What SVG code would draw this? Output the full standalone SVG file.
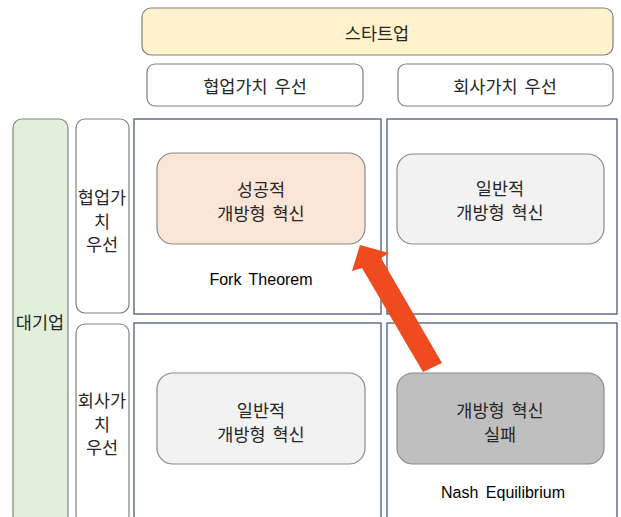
<svg xmlns="http://www.w3.org/2000/svg" width="621" height="517" viewBox="0 0 621 517">
<style>
.hd{stroke:#808080;stroke-width:1.2}
.q{fill:#ffffff;stroke:#4a5a78;stroke-width:1.3}
.in{stroke:#8a8a8a;stroke-width:1.2}
.kt{font-family:"Noto Sans CJK KR","Noto Sans",sans-serif;font-size:17.5px;word-spacing:3px;fill:#262626;text-anchor:middle;dominant-baseline:central}
.et{font-family:"Liberation Sans",Arial,sans-serif;font-size:16px;word-spacing:3px;fill:#000;text-anchor:middle;dominant-baseline:central}
</style>
<rect width="621" height="517" fill="#ffffff"/>
<g id="startup"><rect class="hd" x="142" y="8" width="471" height="47" rx="9" fill="#fff2cc"/><text class="kt" x="377" y="32">스타트업</text></g>
<g id="s-collab"><rect class="hd" x="147" y="64" width="216" height="42" rx="8" fill="#ffffff"/><text class="kt" x="255" y="85">협업가치 우선</text></g>
<g id="s-company"><rect class="hd" x="398" y="64" width="215" height="42" rx="8" fill="#ffffff"/><text class="kt" x="505" y="85">회사가치 우선</text></g>
<g id="corp"><rect class="hd" x="13" y="119" width="55" height="406" rx="9" fill="#e2efda"/><text class="kt" x="40" y="321">대기업</text></g>
<g id="c-collab"><rect class="hd" x="76" y="119" width="53" height="194" rx="9" fill="#ffffff"/><text class="kt" x="102" y="196">협업가</text><text class="kt" x="102" y="220">치</text><text class="kt" x="102" y="243">우선</text></g>
<g id="c-company"><rect class="hd" x="76" y="324" width="53" height="200" rx="9" fill="#ffffff"/><text class="kt" x="102" y="399">회사가</text><text class="kt" x="102" y="423">치</text><text class="kt" x="102" y="446">우선</text></g>
<g id="q-tl"><rect class="q" x="134" y="119" width="247" height="195"/><rect class="in" x="157" y="153" width="208" height="91" rx="16" fill="#fbe5d6"/><text class="kt" x="261" y="188">성공적</text><text class="kt" x="261" y="212">개방형 혁신</text><text class="et" x="261" y="279">Fork Theorem</text></g>
<g id="q-tr"><rect class="q" x="387" y="119" width="230" height="195"/><rect class="in" x="397" y="154" width="207" height="90" rx="16" fill="#f2f2f2"/><text class="kt" x="500" y="187">일반적</text><text class="kt" x="500" y="211">개방형 혁신</text></g>
<g id="q-bl"><rect class="q" x="134" y="323" width="247" height="205"/><rect class="in" x="157" y="373" width="208" height="91" rx="16" fill="#f2f2f2"/><text class="kt" x="261" y="409">일반적</text><text class="kt" x="261" y="433">개방형 혁신</text></g>
<g id="q-br"><rect class="q" x="387" y="323" width="230" height="205"/><rect class="in" x="397" y="373" width="207" height="91" rx="16" fill="#bfbfbf"/><text class="kt" x="500" y="409">개방형 혁신</text><text class="kt" x="500" y="433">실패</text><text class="et" x="503" y="492">Nash Equilibrium</text></g>
<g id="connectors"><polygon points="360,245 389,253 381,258 442,363 423,372 362,268 352,271" fill="#ef4b1f"/></g>
</svg>
